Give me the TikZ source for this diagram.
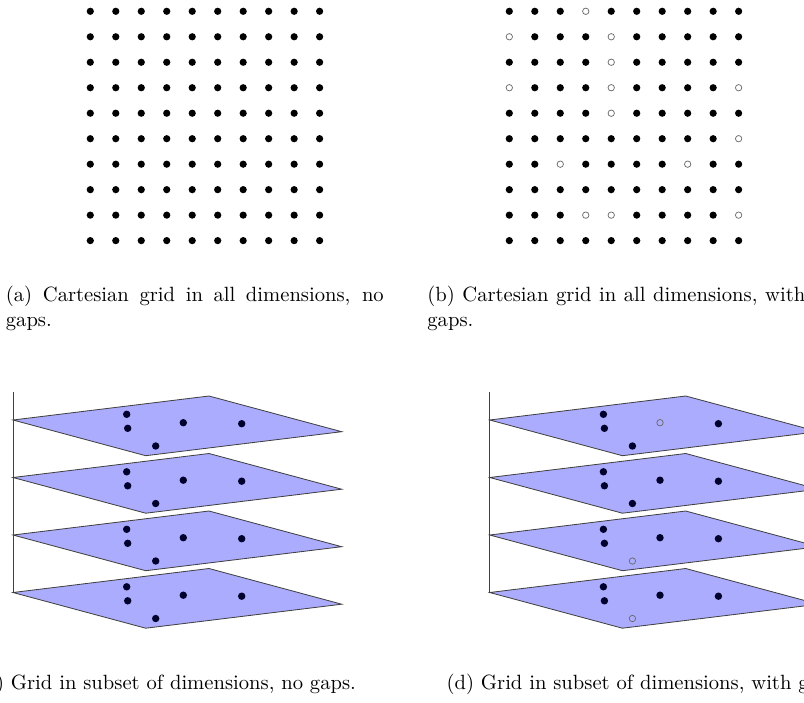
\documentclass[tikz,border=0pt]{standalone}
\usepackage{tikz}
\definecolor{planefill}{RGB}{172,172,255}
\definecolor{planedot}{RGB}{0,0,45}
\definecolor{holeedge}{RGB}{105,105,105}

\begin{document}
\begin{tikzpicture}[
  x=0.48507pt,y=-0.48507pt,
  font=\normalsize,
  dot/.style={circle,fill=black,inner sep=0pt,minimum size=3.5pt},
  hole/.style={circle,draw=holeedge,line width=0.35pt,inner sep=0pt,minimum size=3.1pt},
  pdot/.style={circle,fill=planedot,inner sep=0pt,minimum size=3.6pt},
  plane/.style={fill=planefill,draw=black!75,line width=0.4pt},
  subcap/.style={inner sep=0pt,anchor=base west,text width=183.3pt,align=justify},
  capline/.style={inner sep=0pt,anchor=base west},
]
\useasboundingbox (0,0) rectangle (804,702);
\clip (0,0) rectangle (804,702);

% (a) full grid
\foreach \i in {0,...,9}
  \foreach \j in {0,...,9}
    \node[dot] (a-\i-\j) at ({90.3+25.48*\i},{11.3+25.48*\j}) {};
\node[subcap] (capa) at (5.5,301.7) {(a) Cartesian grid in all dimensions, no gaps.};

% (b) grid with holes (1 = point, 0 = gap)
\foreach \row [count=\j from 0] in {
    {1,1,1,0,1,1,1,1,1,1},
    {0,1,1,1,0,1,1,1,1,1},
    {1,1,1,1,0,1,1,1,1,1},
    {0,1,1,1,0,1,1,1,1,0},
    {1,1,1,1,0,1,1,1,1,1},
    {1,1,1,1,1,1,1,1,1,0},
    {1,1,0,1,1,1,1,0,1,1},
    {1,1,1,1,1,1,1,1,1,1},
    {1,1,1,0,0,1,1,1,1,0},
    {1,1,1,1,1,1,1,1,1,1}}
  \foreach \v [count=\i from 0] in \row {
    \ifnum\v=1
      \node[dot] (b-\i-\j) at ({509.3+25.48*\i},{11.3+25.48*\j}) {};
    \else
      \node[hole] (b-\i-\j) at ({509.3+25.48*\i},{11.3+25.48*\j}) {};
    \fi
  }
\node[subcap] (capb) at (427,301.7) {(b) Cartesian grid in all dimensions, with gaps.};

% (c) stacked planes, no gaps
\draw[black!75,line width=0.4pt] (13,392) -- (13,592.5);
\foreach \k in {3,2,1,0} {
  \begin{scope}[yshift={-57.5*\k*0.48507pt}]
    \filldraw[plane] (13,420) -- (209,396) -- (341.7,431.7) -- (145.7,455.7) -- cycle;
    \node[pdot] (c-\k-1) at (126.7,414.3) {};
    \node[pdot] (c-\k-2) at (127.7,428.3) {};
    \node[pdot] (c-\k-3) at (183.3,422.7) {};
    \node[pdot] (c-\k-4) at (241.7,423.7) {};
    \node[pdot] (c-\k-5) at (155.7,446) {};
  \end{scope}
}
\node[capline] (capc) at (-21.5,689) {(c) Grid in subset of dimensions, no gaps.};

% (d) stacked planes, with gaps
\draw[black!75,line width=0.4pt] (489.7,392) -- (489.7,592.5);
\foreach \k/\c/\e in {3/1/0,2/1/0,1/1/1,0/0/1} {
  \begin{scope}[yshift={-57.5*\k*0.48507pt}]
    \filldraw[plane] (489.7,420) -- (685.7,396) -- (818.4,431.7) -- (622.4,455.7) -- cycle;
    \node[pdot] (d-\k-1) at (603.4,414.3) {};
    \node[pdot] (d-\k-2) at (604.4,428.3) {};
    \ifnum\c=1 \node[pdot] (d-\k-3) at (660,422.7) {};
    \else \node[hole] (d-\k-3) at (660,422.7) {}; \fi
    \node[pdot] (d-\k-4) at (718.4,423.7) {};
    \ifnum\e=1 \node[pdot] (d-\k-5) at (632.4,446) {};
    \else \node[hole] (d-\k-5) at (632.4,446) {}; \fi
  \end{scope}
}
\node[capline] (capd) at (446.2,689) {(d) Grid in subset of dimensions, with gaps.};
\end{tikzpicture}
\end{document}
